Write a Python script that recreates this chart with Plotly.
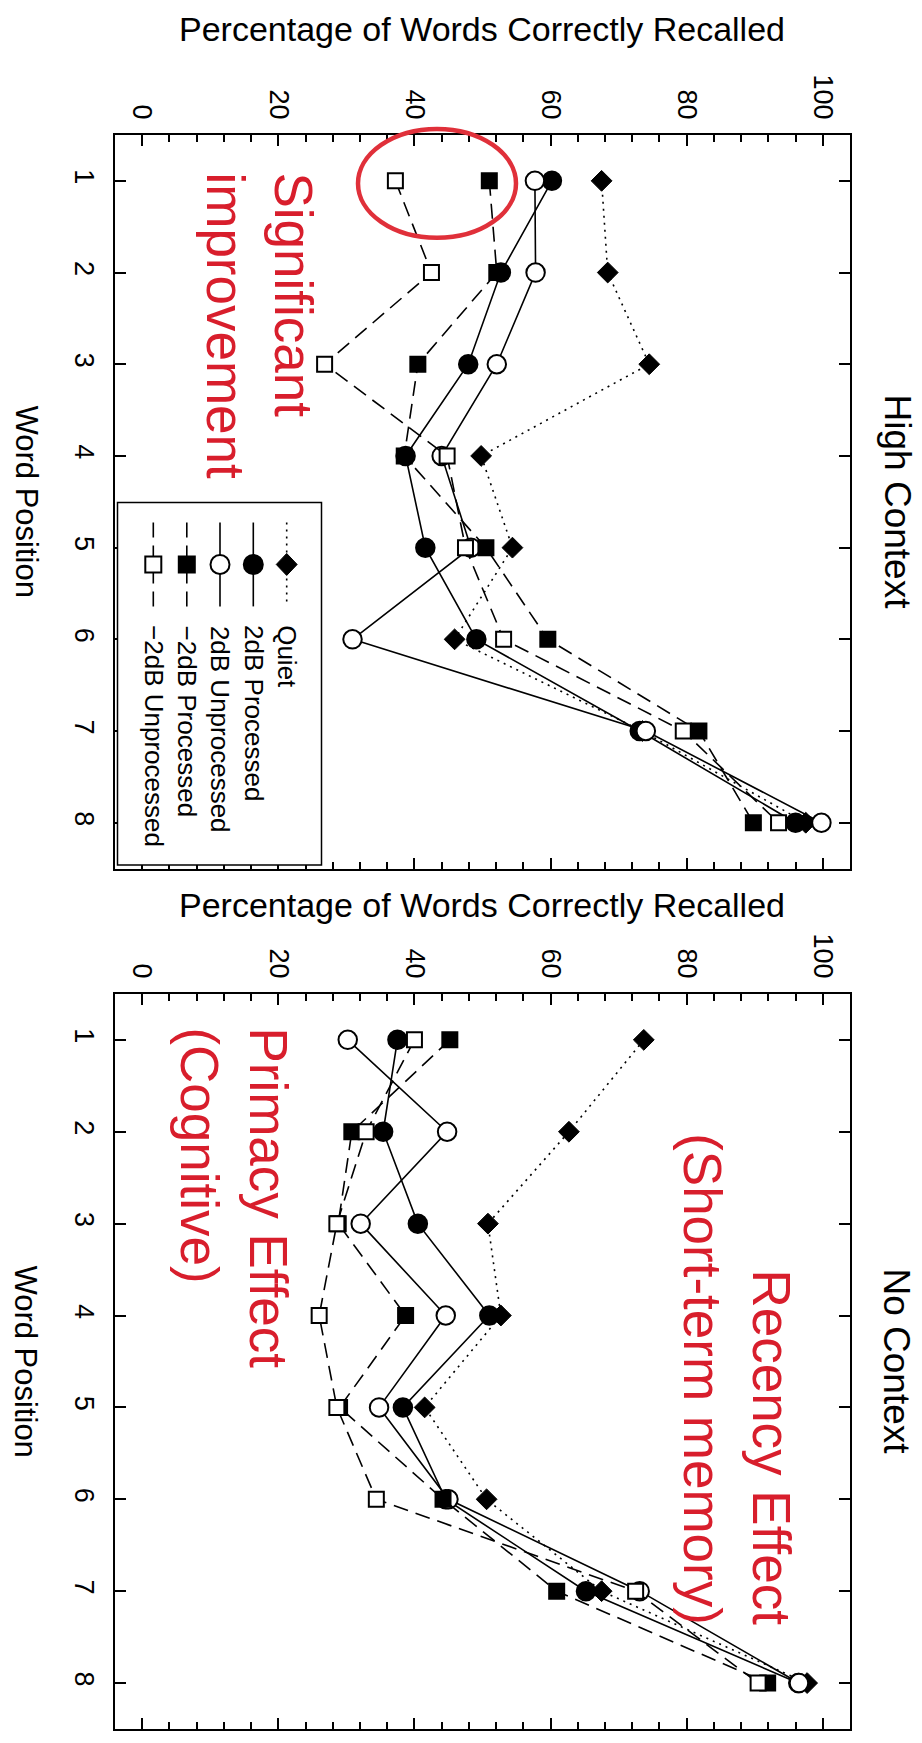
import plotly.graph_objects as go

# Word positions in the recalled list
word_position = [1, 2, 3, 4, 5, 6, 7, 8]

series_names = ["Quiet", "2dB Processed", "2dB Unprocessed",
                "\u22122dB Processed", "\u22122dB Unprocessed"]

# High Context: percentage of words correctly recalled
hi_quiet = [67.5, 68.4, 74.5, 49.8, 54.4, 45.9, 73.5, 97.5]
hi_2db_proc = [60.2, 52.7, 47.9, 38.7, 41.6, 49.1, 73.1, 96.0]
hi_2db_unproc = [57.7, 57.8, 52.1, 44.0, 48.3, 30.9, 74.0, 99.8]
hi_m2db_proc = [51.0, 52.1, 40.5, 38.5, 50.5, 59.6, 81.8, 89.8]
hi_m2db_unproc = [37.2, 42.5, 26.8, 44.8, 47.5, 53.1, 79.5, 93.5]

# No Context: percentage of words correctly recalled
no_quiet = [73.7, 62.7, 50.8, 52.7, 41.5, 50.6, 67.5, 97.7]
no_2db_proc = [37.5, 35.4, 40.5, 51.0, 38.3, 44.6, 65.2, 96.4]
no_2db_unproc = [30.2, 44.8, 32.1, 44.6, 34.8, 45.0, 73.1, 96.5]
no_m2db_proc = [45.2, 30.8, 28.8, 38.7, 29.0, 44.2, 60.9, 91.9]
no_m2db_unproc = [40.0, 32.9, 28.6, 26.0, 28.6, 34.4, 72.5, 90.5]

pct_ticks = [0, 20, 40, 60, 80, 100]

# Per-series styling
symbols = ["diamond", "circle", "circle", "square", "square"]
fills = ["black", "black", "white", "black", "white"]
sizes = [16, 18.5, 18.5, 15, 15]
dashes = ["2px,5px", "solid", "solid", "15px,8px", "15px,8px"]

FONT = "Liberation Sans, Arial, Helvetica, sans-serif"
RED = "#d81e2c"
W, H = 922, 1743
L, R, T, B = 115, 72, 135, 12
PW, PH = W - L - R, H - T - B


def px_x(px):
    return (px - L) / PW


def px_y(py):
    return (H - B - py) / PH


fig = go.Figure()

panels = [
    ("x", "y", [hi_quiet, hi_2db_proc, hi_2db_unproc, hi_m2db_proc, hi_m2db_unproc]),
    ("x2", "y2", [no_quiet, no_2db_proc, no_2db_unproc, no_m2db_proc, no_m2db_unproc]),
]
for xa, ya, series in panels:
    for i, vals in enumerate(series):
        fig.add_trace(go.Scatter(
            x=vals, y=word_position, xaxis=xa, yaxis=ya,
            mode="lines+markers", name=series_names[i], showlegend=False,
            line=dict(color="black", width=1.6, dash=dashes[i]),
            marker=dict(symbol=symbols[i], size=sizes[i], color=fills[i],
                        line=dict(color="black", width=2 if i else 1)),
            cliponaxis=False,
        ))

top_bottom = (H - B - 869.5) / PH
bot_top = (H - B - 995) / PH

xcommon = dict(
    range=[-4, 104], tickvals=pct_ticks, tickangle=90, side="top",
    ticks="inside", ticklen=11, tickwidth=2, tickcolor="black",
    showline=True, linewidth=2, linecolor="black", mirror="ticks",
    showgrid=False, zeroline=False, ticklabelstandoff=4,
    tickfont=dict(family=FONT, size=27, color="black"),
    minor=dict(tick0=0, dtick=4, ticks="inside", ticklen=7, tickwidth=2,
               tickcolor="black", showgrid=False),
)
ycommon = dict(
    range=[8.5, 0.5], tickvals=word_position, tickangle=90,
    ticks="inside", ticklen=11, tickwidth=2, tickcolor="black",
    showline=True, linewidth=2, linecolor="black", mirror="ticks",
    showgrid=False, zeroline=False, ticklabelstandoff=6,
    tickfont=dict(family=FONT, size=27, color="black"),
)

fig.update_layout(
    width=W, height=H,
    margin=dict(l=L, r=R, t=T, b=B),
    paper_bgcolor="white", plot_bgcolor="white",
    xaxis=dict(domain=[0, 1], anchor="y", **xcommon),
    yaxis=dict(domain=[top_bottom, 1], anchor="x", **ycommon),
    xaxis2=dict(domain=[0, 1], anchor="y2", **xcommon),
    yaxis2=dict(domain=[0, bot_top], anchor="x2", **ycommon),
    font=dict(family=FONT, color="black"),
)

ann = []
shapes = []

# Axis titles and panel titles
for title_y, panel_mid, title in [(29, 502, "High Context"), (906, 1363, "No Context")]:
    ann.append(dict(text="Percentage of Words Correctly Recalled", xref="paper", yref="paper",
                    x=px_x(482), y=px_y(title_y), xanchor="center", yanchor="middle",
                    showarrow=False, font=dict(size=34, family=FONT)))
    ann.append(dict(text="Word Position", xref="paper", yref="paper", textangle=90,
                    x=px_x(26), y=px_y(panel_mid), xanchor="center", yanchor="middle",
                    showarrow=False, font=dict(size=31, family=FONT)))
    ann.append(dict(text=title, xref="paper", yref="paper", textangle=90,
                    x=px_x(897), y=px_y(panel_mid), xanchor="center", yanchor="middle",
                    showarrow=False, font=dict(size=37, family=FONT)))

# Callout texts
ann.append(dict(text="Significant<br>improvement", xref="paper", yref="paper", textangle=90,
                x=px_x(259), y=px_y(170), xanchor="center", yanchor="top", align="left",
                showarrow=False, font=dict(size=53, family=FONT, color=RED)))
ann.append(dict(text="Primacy Effect<br>(Cognitive)", xref="paper", yref="paper", textangle=90,
                x=px_x(234), y=px_y(1026), xanchor="center", yanchor="top", align="left",
                showarrow=False, font=dict(size=53, family=FONT, color=RED)))
ann.append(dict(text="Recency Effect<br>(Short-term memory)", xref="paper", yref="paper",
                textangle=90, x=px_x(737), y=px_y(1629), xanchor="center", yanchor="bottom",
                align="right", showarrow=False, font=dict(size=53, family=FONT, color=RED)))

# Highlight ellipse around position 1 of the -2dB conditions
shapes.append(dict(type="circle", xref="paper", yref="paper",
                   x0=px_x(358), x1=px_x(516), y0=px_y(238), y1=px_y(129),
                   line=dict(color="#e0303a", width=4.5), layer="above"))

# Key (rotated legend) in the High Context panel
shapes.append(dict(type="rect", xref="paper", yref="paper",
                   x0=px_x(117.5), x1=px_x(321.5), y0=px_y(866), y1=px_y(503),
                   line=dict(color="black", width=1.5), fillcolor="white", layer="above"))
key_cols = [286.7, 253.3, 220.0, 186.8, 153.3]
key_mid = 565
for i, cx in enumerate(key_cols):
    shapes.append(dict(type="line", xref="paper", yref="paper",
                       x0=px_x(cx), x1=px_x(cx), y0=px_y(523), y1=px_y(607),
                       line=dict(color="black", width=1.6, dash=dashes[i]), layer="above"))
    if symbols[i] == "diamond":
        d = 11
        path = "M {a},{b} L {c},{d2} L {a},{e} L {f},{d2} Z".format(
            a=px_x(cx), b=px_y(key_mid - d), c=px_x(cx + d * 0.95), d2=px_y(key_mid),
            e=px_y(key_mid + d), f=px_x(cx - d * 0.95))
        shapes.append(dict(type="path", xref="paper", yref="paper", path=path,
                           fillcolor="black", line=dict(color="black", width=1), layer="above"))
    elif symbols[i] == "circle":
        r = 9.5
        shapes.append(dict(type="circle", xref="paper", yref="paper",
                           x0=px_x(cx - r), x1=px_x(cx + r), y0=px_y(key_mid + r), y1=px_y(key_mid - r),
                           fillcolor=fills[i], line=dict(color="black", width=2), layer="above"))
    else:
        r = 8
        shapes.append(dict(type="rect", xref="paper", yref="paper",
                           x0=px_x(cx - r), x1=px_x(cx + r), y0=px_y(key_mid + r), y1=px_y(key_mid - r),
                           fillcolor=fills[i], line=dict(color="black", width=2), layer="above"))
    ann.append(dict(text=series_names[i], xref="paper", yref="paper", textangle=90,
                    x=px_x(cx), y=px_y(624), xanchor="center", yanchor="top",
                    showarrow=False, font=dict(size=26, family=FONT)))

fig.update_layout(annotations=ann, shapes=shapes)
fig.write_html("out.html")
